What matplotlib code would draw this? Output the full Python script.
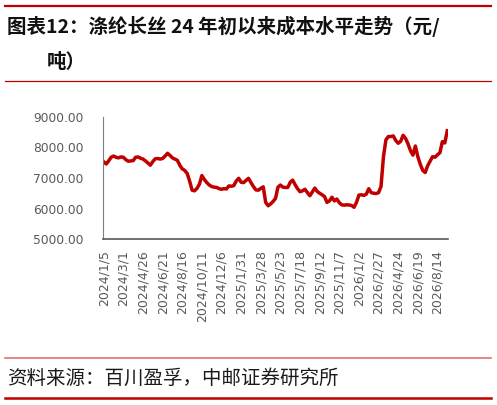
import pandas as pd
import matplotlib
matplotlib.use("Agg")
import matplotlib.pyplot as plt
from matplotlib.lines import Line2D

plt.rcParams['font.family'] = ['Noto Sans CJK SC', 'DejaVu Sans']

# ================= DATOS =================
fecha_inicio = "2024-01-05"
# coste semanal (元/吨)
coste = [
    7530, 7460, 7560, 7680, 7720, 7680, 7660, 7690, 7680, 7600,
    7550, 7560, 7570, 7680, 7690, 7650, 7620, 7560, 7490, 7420,
    7540, 7630, 7640, 7620, 7640, 7720, 7810, 7740, 7660, 7620,
    7580, 7420, 7300, 7250, 7150, 6900, 6600, 6580, 6660, 6800,
    7080, 6950, 6850, 6770, 6720, 6700, 6690, 6650, 6630, 6650,
    6640, 6740, 6730, 6750, 6900, 6990, 6860, 6850, 6920, 6990,
    6850, 6720, 6610, 6600, 6660, 6710, 6200, 6090, 6150, 6230,
    6330, 6700, 6770, 6700, 6690, 6690, 6860, 6930, 6780, 6650,
    6550, 6580, 6630, 6520, 6420, 6540, 6670, 6560, 6500, 6450,
    6390, 6200, 6250, 6370, 6250, 6310, 6190, 6120, 6110, 6120,
    6115, 6100, 6040, 6200, 6440, 6450, 6430, 6470, 6650, 6520,
    6500, 6490, 6520, 6720, 7700, 8250, 8360, 8360, 8380, 8230,
    8140, 8200, 8400, 8300, 8120, 7900, 7750, 8050, 7700, 7450,
    7250, 7180, 7400, 7550, 7700, 7680, 7760, 7830, 8190, 8150,
    8550,
]
y_ticks = [5000, 6000, 7000, 8000, 9000]
paso_etiquetas = 8  # una etiqueta cada 8 semanas

titulo_1 = "图表12：涤纶长丝 24 年初以来成本水平走势（元/"
titulo_2 = "吨）"
fuente = "资料来源：百川盈孚，中邮证券研究所"

# ================= GRÁFICA =================
fechas = pd.date_range(fecha_inicio, periods=len(coste), freq="7D")
etiquetas = [f"{d.year}/{d.month}/{d.day}" for d in fechas]
idx = list(range(len(coste)))

fig = plt.figure(figsize=(4.97, 4.05), dpi=100)

# líneas rojas de cabecera y pie
fig.add_artist(Line2D([0.01, 0.988], [1 - 6 / 405] * 2, color="#C00000", lw=1.6))
fig.add_artist(Line2D([0.01, 0.988], [1 - 81 / 405] * 2, color="#C00000", lw=0.9))
fig.add_artist(Line2D([0.01, 0.988], [1 - 358 / 405] * 2, color="#E07070", lw=1.2))
fig.add_artist(Line2D([0.01, 0.988], [1 - 398 / 405] * 2, color="#C00000", lw=1.8))

fig.text(7 / 497, 1 - 26 / 405, titulo_1, fontsize=14, fontweight="bold", va="center", color="#111111")
fig.text(47 / 497, 1 - 62 / 405, titulo_2, fontsize=14, fontweight="bold", va="center", color="#111111")
fig.text(7 / 497, 1 - 378 / 405, fuente, fontsize=14, va="center", color="#1a1a1a")

ax = fig.add_axes([103 / 497, 1 - 239 / 405, 345 / 497, 122 / 405])
ax.plot(idx, coste, color="#C00000", lw=2.5, solid_joinstyle="round")
ax.set_xlim(-0.3, len(coste) - 0.7)
ax.set_ylim(5000, 9000)
ax.set_yticks(y_ticks)
ax.set_yticklabels([f"{v:.2f}" for v in y_ticks], family="DejaVu Sans", fontsize=8.8, color="#595959")
ax.set_xticks(idx[::paso_etiquetas])
ax.set_xticklabels(etiquetas[::paso_etiquetas], rotation=90, family="DejaVu Sans", fontsize=9, color="#595959")
ax.tick_params(length=0, pad=8)
ax.tick_params(axis="y", pad=14)
for lado in ["top", "right"]:
    ax.spines[lado].set_visible(False)
ax.spines["left"].set_color("#7f7f7f")
ax.spines["bottom"].set_color("#595959")
ax.spines["bottom"].set_linewidth(1.2)

plt.savefig("out.png", dpi=100)
plt.close()
